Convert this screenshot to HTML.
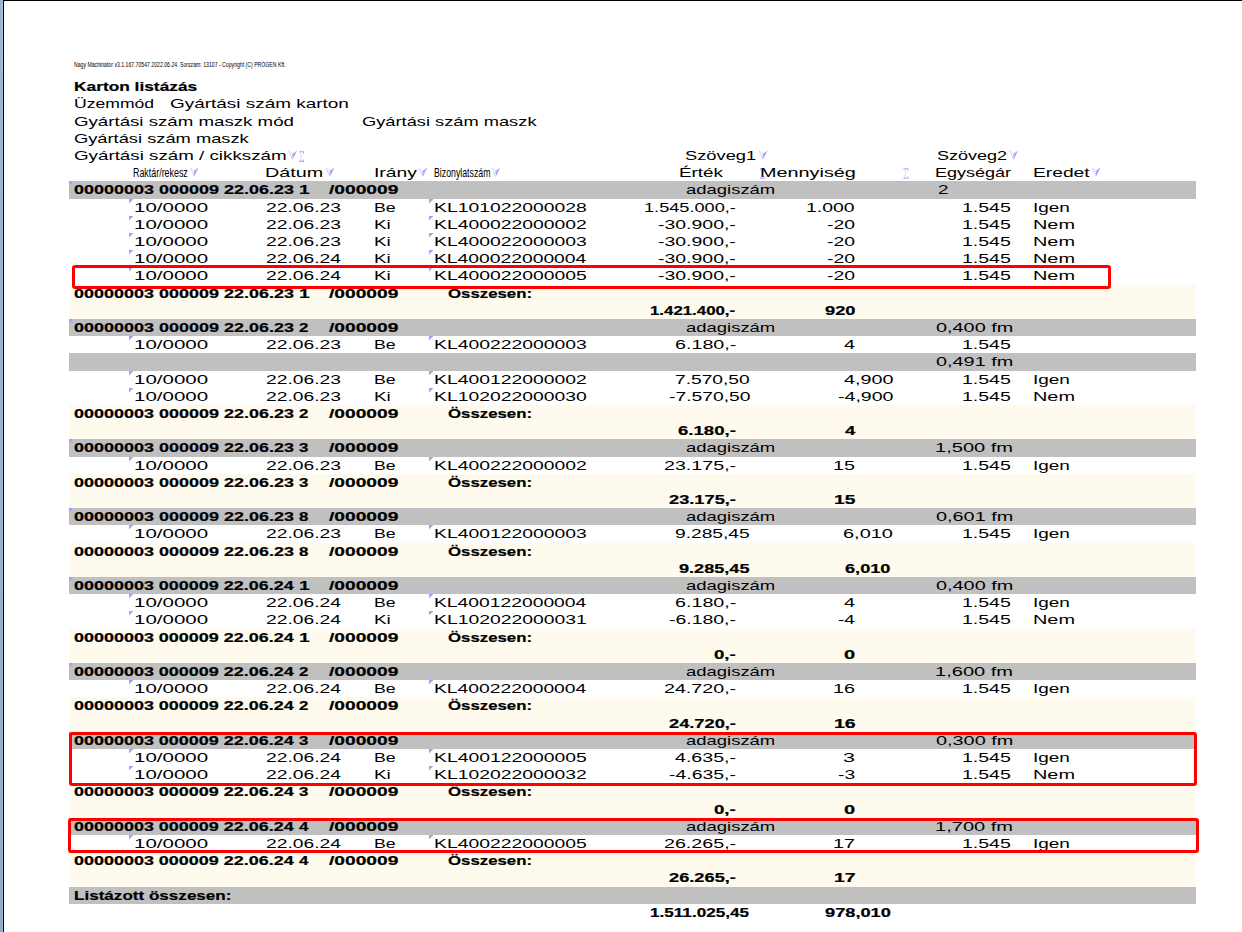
<!DOCTYPE html>
<html><head><meta charset="utf-8"><style>
html,body{margin:0;padding:0;}
body{width:1242px;height:932px;overflow:hidden;position:relative;background:#fff;font-family:"Liberation Sans",sans-serif;}
.t{position:absolute;white-space:pre;transform-origin:0 0;line-height:normal;color:#000;}
.bg{position:absolute;left:69px;width:1127px;}
.tri{position:absolute;width:5px;height:5px;background:linear-gradient(135deg,#a0a0ff 0,#a0a0ff 38%,rgba(160,160,255,0) 52%);}
.ic{position:absolute;}
.box{position:absolute;box-sizing:border-box;border:3px solid #ff0000;border-radius:3px;}
#lstrip{position:absolute;left:0;top:0;width:2px;height:932px;background:linear-gradient(#9db5d5,#91abc9);}
#lstrip2{position:absolute;left:2px;top:0;width:1px;height:932px;background:linear-gradient(#a7c0de,#9bb5d3);}
#lline{position:absolute;left:3px;top:0;width:1px;height:932px;background:#000;}
#tline{position:absolute;left:3px;top:0;width:1239px;height:1px;background:#000;}
</style></head><body>
<div id="lstrip"></div><div id="lstrip2"></div><div id="lline"></div><div id="tline"></div>
<div class="bg" style="top:181px;height:18px;background:#c0c0c0"></div><div class="bg" style="top:319px;height:17px;background:#c0c0c0"></div><div class="bg" style="top:353px;height:18px;background:#c0c0c0"></div><div class="bg" style="top:439px;height:18px;background:#c0c0c0"></div><div class="bg" style="top:508px;height:17px;background:#c0c0c0"></div><div class="bg" style="top:577px;height:17px;background:#c0c0c0"></div><div class="bg" style="top:663px;height:17px;background:#c0c0c0"></div><div class="bg" style="top:732px;height:17px;background:#c0c0c0"></div><div class="bg" style="top:818px;height:17px;background:#c0c0c0"></div><div class="bg" style="top:887px;height:17px;background:#c0c0c0"></div><div class="bg" style="top:285px;height:17px;background:#fffaee"></div><div class="bg" style="top:302px;height:17px;background:#fffaee"></div><div class="bg" style="top:405px;height:17px;background:#fffaee"></div><div class="bg" style="top:422px;height:17px;background:#fffaee"></div><div class="bg" style="top:474px;height:17px;background:#fffaee"></div><div class="bg" style="top:491px;height:17px;background:#fffaee"></div><div class="bg" style="top:543px;height:17px;background:#fffaee"></div><div class="bg" style="top:560px;height:17px;background:#fffaee"></div><div class="bg" style="top:629px;height:17px;background:#fffaee"></div><div class="bg" style="top:646px;height:17px;background:#fffaee"></div><div class="bg" style="top:697px;height:18px;background:#fffaee"></div><div class="bg" style="top:715px;height:17px;background:#fffaee"></div><div class="bg" style="top:783px;height:18px;background:#fffaee"></div><div class="bg" style="top:801px;height:17px;background:#fffaee"></div><div class="bg" style="top:852px;height:17px;background:#fffaee"></div><div class="bg" style="top:869px;height:18px;background:#fffaee"></div>
<div class="tri" style="left:69px;top:181px"></div><div class="tri" style="left:69px;top:319px"></div><div class="tri" style="left:69px;top:439px"></div><div class="tri" style="left:69px;top:508px"></div><div class="tri" style="left:69px;top:577px"></div><div class="tri" style="left:69px;top:663px"></div><div class="tri" style="left:69px;top:732px"></div><div class="tri" style="left:69px;top:818px"></div><div class="tri" style="left:129px;top:199px"></div><div class="tri" style="left:429px;top:199px"></div><div class="tri" style="left:129px;top:216px"></div><div class="tri" style="left:429px;top:216px"></div><div class="tri" style="left:129px;top:233px"></div><div class="tri" style="left:429px;top:233px"></div><div class="tri" style="left:129px;top:250px"></div><div class="tri" style="left:429px;top:250px"></div><div class="tri" style="left:129px;top:267px"></div><div class="tri" style="left:429px;top:267px"></div><div class="tri" style="left:129px;top:336px"></div><div class="tri" style="left:429px;top:336px"></div><div class="tri" style="left:129px;top:371px"></div><div class="tri" style="left:429px;top:371px"></div><div class="tri" style="left:129px;top:388px"></div><div class="tri" style="left:429px;top:388px"></div><div class="tri" style="left:129px;top:457px"></div><div class="tri" style="left:429px;top:457px"></div><div class="tri" style="left:129px;top:525px"></div><div class="tri" style="left:429px;top:525px"></div><div class="tri" style="left:129px;top:594px"></div><div class="tri" style="left:429px;top:594px"></div><div class="tri" style="left:129px;top:611px"></div><div class="tri" style="left:429px;top:611px"></div><div class="tri" style="left:129px;top:680px"></div><div class="tri" style="left:429px;top:680px"></div><div class="tri" style="left:129px;top:749px"></div><div class="tri" style="left:429px;top:749px"></div><div class="tri" style="left:129px;top:766px"></div><div class="tri" style="left:429px;top:766px"></div><div class="tri" style="left:129px;top:835px"></div><div class="tri" style="left:429px;top:835px"></div>
<svg class="ic" style="left:288px;top:150px" width="12" height="12" viewBox="0 0 12 12"><path d="M0.80 0.70 L4.50 9.30" stroke="#d4d0ff" stroke-width="1" fill="none"/><path d="M1.00 0.80 L4.70 3.50" stroke="#e0dcff" stroke-width="0.8" fill="none"/><path d="M4.20 3.90 L9.10 0.50 L4.70 9.60 Z" fill="#aaa6ff"/></svg><svg class="ic" style="left:758px;top:150px" width="12" height="12" viewBox="0 0 12 12"><path d="M1.20 0.70 L4.90 9.30" stroke="#d4d0ff" stroke-width="1" fill="none"/><path d="M1.40 0.80 L5.10 3.50" stroke="#e0dcff" stroke-width="0.8" fill="none"/><path d="M4.60 3.90 L9.50 0.50 L5.10 9.60 Z" fill="#aaa6ff"/></svg><svg class="ic" style="left:1009px;top:150px" width="12" height="12" viewBox="0 0 12 12"><path d="M0.90 0.70 L4.60 9.30" stroke="#d4d0ff" stroke-width="1" fill="none"/><path d="M1.10 0.80 L4.80 3.50" stroke="#e0dcff" stroke-width="0.8" fill="none"/><path d="M4.30 3.90 L9.20 0.50 L4.80 9.60 Z" fill="#aaa6ff"/></svg><svg class="ic" style="left:299px;top:151px" width="8" height="13" viewBox="0 0 8 13"><path d="M4.60 2.80 L4.60 0.80 L0.20 0.80" stroke="#aaa6ff" stroke-width="1.1" fill="none"/><path d="M4.60 8.50 L4.60 10.40 L0.20 10.40" stroke="#aaa6ff" stroke-width="1.1" fill="none"/><path d="M1.00 1.20 L2.60 5.40 L1.00 10.00" stroke="#d0ccff" stroke-width="0.9" fill="none"/></svg><svg class="ic" style="left:190px;top:167px" width="12" height="12" viewBox="0 0 12 12"><path d="M0.40 0.80 L4.10 9.40" stroke="#d4d0ff" stroke-width="1" fill="none"/><path d="M0.60 0.90 L4.30 3.60" stroke="#e0dcff" stroke-width="0.8" fill="none"/><path d="M3.80 4.00 L8.70 0.60 L4.30 9.70 Z" fill="#aaa6ff"/></svg><svg class="ic" style="left:325px;top:167px" width="12" height="12" viewBox="0 0 12 12"><path d="M1.10 0.80 L4.80 9.40" stroke="#d4d0ff" stroke-width="1" fill="none"/><path d="M1.30 0.90 L5.00 3.60" stroke="#e0dcff" stroke-width="0.8" fill="none"/><path d="M4.50 4.00 L9.40 0.60 L5.00 9.70 Z" fill="#aaa6ff"/></svg><svg class="ic" style="left:418px;top:167px" width="12" height="12" viewBox="0 0 12 12"><path d="M1.00 0.80 L4.70 9.40" stroke="#d4d0ff" stroke-width="1" fill="none"/><path d="M1.20 0.90 L4.90 3.60" stroke="#e0dcff" stroke-width="0.8" fill="none"/><path d="M4.40 4.00 L9.30 0.60 L4.90 9.70 Z" fill="#aaa6ff"/></svg><svg class="ic" style="left:491px;top:167px" width="12" height="12" viewBox="0 0 12 12"><path d="M1.00 0.80 L4.70 9.40" stroke="#d4d0ff" stroke-width="1" fill="none"/><path d="M1.20 0.90 L4.90 3.60" stroke="#e0dcff" stroke-width="0.8" fill="none"/><path d="M4.40 4.00 L9.30 0.60 L4.90 9.70 Z" fill="#aaa6ff"/></svg><svg class="ic" style="left:1091px;top:167px" width="12" height="12" viewBox="0 0 12 12"><path d="M1.20 0.80 L4.90 9.40" stroke="#d4d0ff" stroke-width="1" fill="none"/><path d="M1.40 0.90 L5.10 3.60" stroke="#e0dcff" stroke-width="0.8" fill="none"/><path d="M4.60 4.00 L9.50 0.60 L5.10 9.70 Z" fill="#aaa6ff"/></svg><svg class="ic" style="left:903px;top:168px" width="8" height="13" viewBox="0 0 8 13"><path d="M4.80 2.70 L4.80 0.70 L0.40 0.70" stroke="#aaa6ff" stroke-width="1.1" fill="none"/><path d="M4.80 8.40 L4.80 10.30 L0.40 10.30" stroke="#aaa6ff" stroke-width="1.1" fill="none"/><path d="M1.20 1.10 L2.80 5.30 L1.20 9.90" stroke="#d0ccff" stroke-width="0.9" fill="none"/></svg><svg class="ic" style="left:759px;top:168px" width="8" height="13" viewBox="0 0 8 13"><path d="M5.20 2.70 L5.20 0.70 L0.80 0.70" stroke="#aaa6ff" stroke-width="1.1" fill="none"/><path d="M5.20 8.40 L5.20 10.30 L0.80 10.30" stroke="#aaa6ff" stroke-width="1.1" fill="none"/><path d="M1.60 1.10 L3.20 5.30 L1.60 9.90" stroke="#d0ccff" stroke-width="0.9" fill="none"/></svg>
<span class="t" style="left:73.55px;top:60.19px;font-size:7.3px;transform:scaleX(0.7062);">Nagy Machinátor v3.1.167.70547 2022.06.24. Sorszám: 13107 - Copyright (C) PROGEN Kft.</span><span class="t" style="left:73.95px;top:80.00px;font-size:12.4px;transform:scaleX(1.3977);font-weight:bold;-webkit-text-stroke:0.2px #000;">Karton listázás</span><span class="t" style="left:73.58px;top:97.00px;font-size:12.4px;transform:scaleX(1.4192);">Üzemmód</span><span class="t" style="left:170.24px;top:97.00px;font-size:12.4px;transform:scaleX(1.5283);">Gyártási szám karton</span><span class="t" style="left:74.25px;top:115.00px;font-size:12.4px;transform:scaleX(1.5067);">Gyártási szám maszk mód</span><span class="t" style="left:362.26px;top:115.00px;font-size:12.4px;transform:scaleX(1.4737);">Gyártási szám maszk</span><span class="t" style="left:74.26px;top:132.00px;font-size:12.4px;transform:scaleX(1.4754);">Gyártási szám maszk</span><span class="t" style="left:74.24px;top:149.00px;font-size:12.4px;transform:scaleX(1.5138);">Gyártási szám / cikkszám</span><span class="t" style="left:685.26px;top:149.00px;font-size:12.4px;transform:scaleX(1.4751);">Szöveg1</span><span class="t" style="left:936.97px;top:149.00px;font-size:12.4px;transform:scaleX(1.4532);">Szöveg2</span><span class="t" style="left:265.31px;top:166.00px;font-size:12.4px;transform:scaleX(1.5942);">Dátum</span><span class="t" style="left:373.65px;top:166.00px;font-size:12.4px;transform:scaleX(1.5547);">Irány</span><span class="t" style="left:678.78px;top:166.00px;font-size:12.4px;transform:scaleX(1.5214);">Érték</span><span class="t" style="left:760.10px;top:166.00px;font-size:12.4px;transform:scaleX(1.6000);">Mennyiség</span><span class="t" style="left:935.05px;top:166.00px;font-size:12.4px;transform:scaleX(1.4537);">Egységár</span><span class="t" style="left:1032.65px;top:166.00px;font-size:12.4px;transform:scaleX(1.5521);">Eredet</span><span class="t" style="left:133.38px;top:166.00px;font-size:12.4px;transform:scaleX(0.7171);">Raktár/rekesz</span><span class="t" style="left:433.79px;top:166.00px;font-size:12.4px;transform:scaleX(0.7064);">Bizonylatszám</span><span class="t" style="left:74.07px;top:183.00px;font-size:12.4px;transform:scaleX(1.4514);font-weight:bold;-webkit-text-stroke:0.2px #000;">00000003 000009 22.06.23</span><span class="t" style="left:298.64px;top:183.00px;font-size:12.4px;transform:scaleX(1.5478);font-weight:bold;-webkit-text-stroke:0.2px #000;">1</span><span class="t" style="left:329.20px;top:183.00px;font-size:12.4px;transform:scaleX(1.5480);font-weight:bold;-webkit-text-stroke:0.2px #000;">/000009</span><span class="t" style="left:685.96px;top:183.00px;font-size:12.4px;transform:scaleX(1.4894);">adagiszám</span><span class="t" style="left:937.74px;top:183.00px;font-size:12.4px;transform:scaleX(1.5130);">2</span><span class="t" style="left:74.07px;top:321.00px;font-size:12.4px;transform:scaleX(1.4514);font-weight:bold;-webkit-text-stroke:0.2px #000;">00000003 000009 22.06.23</span><span class="t" style="left:299.12px;top:321.00px;font-size:12.4px;transform:scaleX(1.3600);font-weight:bold;-webkit-text-stroke:0.2px #000;">2</span><span class="t" style="left:329.20px;top:321.00px;font-size:12.4px;transform:scaleX(1.5480);font-weight:bold;-webkit-text-stroke:0.2px #000;">/000009</span><span class="t" style="left:685.96px;top:321.00px;font-size:12.4px;transform:scaleX(1.4894);">adagiszám</span><span class="t" style="left:936.20px;top:321.00px;font-size:12.4px;transform:scaleX(1.6021);">0,400 fm</span><span class="t" style="left:74.07px;top:441.00px;font-size:12.4px;transform:scaleX(1.4514);font-weight:bold;-webkit-text-stroke:0.2px #000;">00000003 000009 22.06.23</span><span class="t" style="left:299.46px;top:441.00px;font-size:12.4px;transform:scaleX(1.3600);font-weight:bold;-webkit-text-stroke:0.2px #000;">3</span><span class="t" style="left:329.20px;top:441.00px;font-size:12.4px;transform:scaleX(1.5480);font-weight:bold;-webkit-text-stroke:0.2px #000;">/000009</span><span class="t" style="left:685.96px;top:441.00px;font-size:12.4px;transform:scaleX(1.4894);">adagiszám</span><span class="t" style="left:935.38px;top:441.00px;font-size:12.4px;transform:scaleX(1.6194);">1,500 fm</span><span class="t" style="left:74.07px;top:510.00px;font-size:12.4px;transform:scaleX(1.4514);font-weight:bold;-webkit-text-stroke:0.2px #000;">00000003 000009 22.06.23</span><span class="t" style="left:299.46px;top:510.00px;font-size:12.4px;transform:scaleX(1.3600);font-weight:bold;-webkit-text-stroke:0.2px #000;">8</span><span class="t" style="left:329.20px;top:510.00px;font-size:12.4px;transform:scaleX(1.5480);font-weight:bold;-webkit-text-stroke:0.2px #000;">/000009</span><span class="t" style="left:685.96px;top:510.00px;font-size:12.4px;transform:scaleX(1.4894);">adagiszám</span><span class="t" style="left:936.20px;top:510.00px;font-size:12.4px;transform:scaleX(1.6021);">0,601 fm</span><span class="t" style="left:74.08px;top:579.00px;font-size:12.4px;transform:scaleX(1.4490);font-weight:bold;-webkit-text-stroke:0.2px #000;">00000003 000009 22.06.24</span><span class="t" style="left:298.64px;top:579.00px;font-size:12.4px;transform:scaleX(1.5478);font-weight:bold;-webkit-text-stroke:0.2px #000;">1</span><span class="t" style="left:329.20px;top:579.00px;font-size:12.4px;transform:scaleX(1.5480);font-weight:bold;-webkit-text-stroke:0.2px #000;">/000009</span><span class="t" style="left:685.96px;top:579.00px;font-size:12.4px;transform:scaleX(1.4894);">adagiszám</span><span class="t" style="left:936.20px;top:579.00px;font-size:12.4px;transform:scaleX(1.6021);">0,400 fm</span><span class="t" style="left:74.08px;top:665.00px;font-size:12.4px;transform:scaleX(1.4490);font-weight:bold;-webkit-text-stroke:0.2px #000;">00000003 000009 22.06.24</span><span class="t" style="left:299.12px;top:665.00px;font-size:12.4px;transform:scaleX(1.3600);font-weight:bold;-webkit-text-stroke:0.2px #000;">2</span><span class="t" style="left:329.20px;top:665.00px;font-size:12.4px;transform:scaleX(1.5480);font-weight:bold;-webkit-text-stroke:0.2px #000;">/000009</span><span class="t" style="left:685.96px;top:665.00px;font-size:12.4px;transform:scaleX(1.4894);">adagiszám</span><span class="t" style="left:935.38px;top:665.00px;font-size:12.4px;transform:scaleX(1.6194);">1,600 fm</span><span class="t" style="left:74.08px;top:734.00px;font-size:12.4px;transform:scaleX(1.4490);font-weight:bold;-webkit-text-stroke:0.2px #000;">00000003 000009 22.06.24</span><span class="t" style="left:299.46px;top:734.00px;font-size:12.4px;transform:scaleX(1.3600);font-weight:bold;-webkit-text-stroke:0.2px #000;">3</span><span class="t" style="left:329.20px;top:734.00px;font-size:12.4px;transform:scaleX(1.5480);font-weight:bold;-webkit-text-stroke:0.2px #000;">/000009</span><span class="t" style="left:685.96px;top:734.00px;font-size:12.4px;transform:scaleX(1.4894);">adagiszám</span><span class="t" style="left:936.20px;top:734.00px;font-size:12.4px;transform:scaleX(1.6021);">0,300 fm</span><span class="t" style="left:74.08px;top:820.00px;font-size:12.4px;transform:scaleX(1.4490);font-weight:bold;-webkit-text-stroke:0.2px #000;">00000003 000009 22.06.24</span><span class="t" style="left:299.46px;top:820.00px;font-size:12.4px;transform:scaleX(1.3600);font-weight:bold;-webkit-text-stroke:0.2px #000;">4</span><span class="t" style="left:329.20px;top:820.00px;font-size:12.4px;transform:scaleX(1.5480);font-weight:bold;-webkit-text-stroke:0.2px #000;">/000009</span><span class="t" style="left:685.96px;top:820.00px;font-size:12.4px;transform:scaleX(1.4894);">adagiszám</span><span class="t" style="left:935.38px;top:820.00px;font-size:12.4px;transform:scaleX(1.6194);">1,700 fm</span><span class="t" style="left:936.20px;top:355.00px;font-size:12.4px;transform:scaleX(1.6021);">0,491 fm</span><span class="t" style="left:74.07px;top:287.00px;font-size:12.4px;transform:scaleX(1.4514);font-weight:bold;-webkit-text-stroke:0.2px #000;">00000003 000009 22.06.23</span><span class="t" style="left:298.64px;top:287.00px;font-size:12.4px;transform:scaleX(1.5478);font-weight:bold;-webkit-text-stroke:0.2px #000;">1</span><span class="t" style="left:329.20px;top:287.00px;font-size:12.4px;transform:scaleX(1.5480);font-weight:bold;-webkit-text-stroke:0.2px #000;">/000009</span><span class="t" style="left:448.02px;top:287.00px;font-size:12.4px;transform:scaleX(1.3560);font-weight:bold;-webkit-text-stroke:0.2px #000;">Összesen:</span><span class="t" style="left:650.48px;top:304.00px;font-size:12.4px;transform:scaleX(1.3577);font-weight:bold;-webkit-text-stroke:0.2px #000;">1.421.400,-</span><span class="t" style="left:825.16px;top:304.00px;font-size:12.4px;transform:scaleX(1.4734);font-weight:bold;-webkit-text-stroke:0.2px #000;">920</span><span class="t" style="left:74.07px;top:407.00px;font-size:12.4px;transform:scaleX(1.4514);font-weight:bold;-webkit-text-stroke:0.2px #000;">00000003 000009 22.06.23</span><span class="t" style="left:299.12px;top:407.00px;font-size:12.4px;transform:scaleX(1.3600);font-weight:bold;-webkit-text-stroke:0.2px #000;">2</span><span class="t" style="left:329.20px;top:407.00px;font-size:12.4px;transform:scaleX(1.5480);font-weight:bold;-webkit-text-stroke:0.2px #000;">/000009</span><span class="t" style="left:448.02px;top:407.00px;font-size:12.4px;transform:scaleX(1.3560);font-weight:bold;-webkit-text-stroke:0.2px #000;">Összesen:</span><span class="t" style="left:677.95px;top:424.00px;font-size:12.4px;transform:scaleX(1.5013);font-weight:bold;-webkit-text-stroke:0.2px #000;">6.180,-</span><span class="t" style="left:844.93px;top:424.00px;font-size:12.4px;transform:scaleX(1.4923);font-weight:bold;-webkit-text-stroke:0.2px #000;">4</span><span class="t" style="left:74.07px;top:476.00px;font-size:12.4px;transform:scaleX(1.4514);font-weight:bold;-webkit-text-stroke:0.2px #000;">00000003 000009 22.06.23</span><span class="t" style="left:299.46px;top:476.00px;font-size:12.4px;transform:scaleX(1.3600);font-weight:bold;-webkit-text-stroke:0.2px #000;">3</span><span class="t" style="left:329.20px;top:476.00px;font-size:12.4px;transform:scaleX(1.5480);font-weight:bold;-webkit-text-stroke:0.2px #000;">/000009</span><span class="t" style="left:448.02px;top:476.00px;font-size:12.4px;transform:scaleX(1.3560);font-weight:bold;-webkit-text-stroke:0.2px #000;">Összesen:</span><span class="t" style="left:668.76px;top:493.00px;font-size:12.4px;transform:scaleX(1.4719);font-weight:bold;-webkit-text-stroke:0.2px #000;">23.175,-</span><span class="t" style="left:834.14px;top:493.00px;font-size:12.4px;transform:scaleX(1.5451);font-weight:bold;-webkit-text-stroke:0.2px #000;">15</span><span class="t" style="left:74.07px;top:545.00px;font-size:12.4px;transform:scaleX(1.4514);font-weight:bold;-webkit-text-stroke:0.2px #000;">00000003 000009 22.06.23</span><span class="t" style="left:299.46px;top:545.00px;font-size:12.4px;transform:scaleX(1.3600);font-weight:bold;-webkit-text-stroke:0.2px #000;">8</span><span class="t" style="left:329.20px;top:545.00px;font-size:12.4px;transform:scaleX(1.5480);font-weight:bold;-webkit-text-stroke:0.2px #000;">/000009</span><span class="t" style="left:448.02px;top:545.00px;font-size:12.4px;transform:scaleX(1.3560);font-weight:bold;-webkit-text-stroke:0.2px #000;">Összesen:</span><span class="t" style="left:679.07px;top:562.00px;font-size:12.4px;transform:scaleX(1.4611);font-weight:bold;-webkit-text-stroke:0.2px #000;">9.285,45</span><span class="t" style="left:845.47px;top:562.00px;font-size:12.4px;transform:scaleX(1.4667);font-weight:bold;-webkit-text-stroke:0.2px #000;">6,010</span><span class="t" style="left:74.08px;top:631.00px;font-size:12.4px;transform:scaleX(1.4490);font-weight:bold;-webkit-text-stroke:0.2px #000;">00000003 000009 22.06.24</span><span class="t" style="left:298.64px;top:631.00px;font-size:12.4px;transform:scaleX(1.5478);font-weight:bold;-webkit-text-stroke:0.2px #000;">1</span><span class="t" style="left:329.20px;top:631.00px;font-size:12.4px;transform:scaleX(1.5480);font-weight:bold;-webkit-text-stroke:0.2px #000;">/000009</span><span class="t" style="left:448.02px;top:631.00px;font-size:12.4px;transform:scaleX(1.3560);font-weight:bold;-webkit-text-stroke:0.2px #000;">Összesen:</span><span class="t" style="left:713.95px;top:648.00px;font-size:12.4px;transform:scaleX(1.5037);font-weight:bold;-webkit-text-stroke:0.2px #000;">0,-</span><span class="t" style="left:844.49px;top:648.00px;font-size:12.4px;transform:scaleX(1.6167);font-weight:bold;-webkit-text-stroke:0.2px #000;">0</span><span class="t" style="left:74.08px;top:699.00px;font-size:12.4px;transform:scaleX(1.4490);font-weight:bold;-webkit-text-stroke:0.2px #000;">00000003 000009 22.06.24</span><span class="t" style="left:299.12px;top:699.00px;font-size:12.4px;transform:scaleX(1.3600);font-weight:bold;-webkit-text-stroke:0.2px #000;">2</span><span class="t" style="left:329.20px;top:699.00px;font-size:12.4px;transform:scaleX(1.5480);font-weight:bold;-webkit-text-stroke:0.2px #000;">/000009</span><span class="t" style="left:448.02px;top:699.00px;font-size:12.4px;transform:scaleX(1.3560);font-weight:bold;-webkit-text-stroke:0.2px #000;">Összesen:</span><span class="t" style="left:668.76px;top:717.00px;font-size:12.4px;transform:scaleX(1.4719);font-weight:bold;-webkit-text-stroke:0.2px #000;">24.720,-</span><span class="t" style="left:834.12px;top:717.00px;font-size:12.4px;transform:scaleX(1.5760);font-weight:bold;-webkit-text-stroke:0.2px #000;">16</span><span class="t" style="left:74.08px;top:785.00px;font-size:12.4px;transform:scaleX(1.4490);font-weight:bold;-webkit-text-stroke:0.2px #000;">00000003 000009 22.06.24</span><span class="t" style="left:299.46px;top:785.00px;font-size:12.4px;transform:scaleX(1.3600);font-weight:bold;-webkit-text-stroke:0.2px #000;">3</span><span class="t" style="left:329.20px;top:785.00px;font-size:12.4px;transform:scaleX(1.5480);font-weight:bold;-webkit-text-stroke:0.2px #000;">/000009</span><span class="t" style="left:448.02px;top:785.00px;font-size:12.4px;transform:scaleX(1.3560);font-weight:bold;-webkit-text-stroke:0.2px #000;">Összesen:</span><span class="t" style="left:713.95px;top:803.00px;font-size:12.4px;transform:scaleX(1.5037);font-weight:bold;-webkit-text-stroke:0.2px #000;">0,-</span><span class="t" style="left:844.49px;top:803.00px;font-size:12.4px;transform:scaleX(1.6167);font-weight:bold;-webkit-text-stroke:0.2px #000;">0</span><span class="t" style="left:74.08px;top:854.00px;font-size:12.4px;transform:scaleX(1.4490);font-weight:bold;-webkit-text-stroke:0.2px #000;">00000003 000009 22.06.24</span><span class="t" style="left:299.46px;top:854.00px;font-size:12.4px;transform:scaleX(1.3600);font-weight:bold;-webkit-text-stroke:0.2px #000;">4</span><span class="t" style="left:329.20px;top:854.00px;font-size:12.4px;transform:scaleX(1.5480);font-weight:bold;-webkit-text-stroke:0.2px #000;">/000009</span><span class="t" style="left:448.02px;top:854.00px;font-size:12.4px;transform:scaleX(1.3560);font-weight:bold;-webkit-text-stroke:0.2px #000;">Összesen:</span><span class="t" style="left:668.76px;top:871.00px;font-size:12.4px;transform:scaleX(1.4719);font-weight:bold;-webkit-text-stroke:0.2px #000;">26.265,-</span><span class="t" style="left:834.12px;top:871.00px;font-size:12.4px;transform:scaleX(1.5760);font-weight:bold;-webkit-text-stroke:0.2px #000;">17</span><span class="t" style="left:133.84px;top:201.00px;font-size:12.4px;transform:scaleX(1.6555);">10/0000</span><span class="t" style="left:266.12px;top:201.00px;font-size:12.4px;transform:scaleX(1.5556);">22.06.23</span><span class="t" style="left:373.77px;top:201.00px;font-size:12.4px;transform:scaleX(1.4296);">Be</span><span class="t" style="left:433.64px;top:201.00px;font-size:12.4px;transform:scaleX(1.5605);">KL101022000028</span><span class="t" style="left:643.73px;top:201.00px;font-size:12.4px;transform:scaleX(1.4661);">1.545.000,-</span><span class="t" style="left:806.23px;top:201.00px;font-size:12.4px;transform:scaleX(1.5661);">1.000</span><span class="t" style="left:961.63px;top:201.00px;font-size:12.4px;transform:scaleX(1.5729);">1.545</span><span class="t" style="left:1032.67px;top:201.00px;font-size:12.4px;transform:scaleX(1.5281);">Igen</span><span class="t" style="left:133.84px;top:218.00px;font-size:12.4px;transform:scaleX(1.6555);">10/0000</span><span class="t" style="left:266.12px;top:218.00px;font-size:12.4px;transform:scaleX(1.5556);">22.06.23</span><span class="t" style="left:373.68px;top:218.00px;font-size:12.4px;transform:scaleX(1.5243);">Ki</span><span class="t" style="left:433.64px;top:218.00px;font-size:12.4px;transform:scaleX(1.5605);">KL400022000002</span><span class="t" style="left:658.12px;top:218.00px;font-size:12.4px;transform:scaleX(1.5691);">-30.900,-</span><span class="t" style="left:826.62px;top:218.00px;font-size:12.4px;transform:scaleX(1.5647);">-20</span><span class="t" style="left:961.63px;top:218.00px;font-size:12.4px;transform:scaleX(1.5729);">1.545</span><span class="t" style="left:1032.60px;top:218.00px;font-size:12.4px;transform:scaleX(1.6041);">Nem</span><span class="t" style="left:133.84px;top:235.00px;font-size:12.4px;transform:scaleX(1.6555);">10/0000</span><span class="t" style="left:266.12px;top:235.00px;font-size:12.4px;transform:scaleX(1.5556);">22.06.23</span><span class="t" style="left:373.68px;top:235.00px;font-size:12.4px;transform:scaleX(1.5243);">Ki</span><span class="t" style="left:433.64px;top:235.00px;font-size:12.4px;transform:scaleX(1.5605);">KL400022000003</span><span class="t" style="left:658.12px;top:235.00px;font-size:12.4px;transform:scaleX(1.5691);">-30.900,-</span><span class="t" style="left:826.62px;top:235.00px;font-size:12.4px;transform:scaleX(1.5647);">-20</span><span class="t" style="left:961.63px;top:235.00px;font-size:12.4px;transform:scaleX(1.5729);">1.545</span><span class="t" style="left:1032.60px;top:235.00px;font-size:12.4px;transform:scaleX(1.6041);">Nem</span><span class="t" style="left:133.84px;top:252.00px;font-size:12.4px;transform:scaleX(1.6555);">10/0000</span><span class="t" style="left:266.12px;top:252.00px;font-size:12.4px;transform:scaleX(1.5556);">22.06.24</span><span class="t" style="left:373.68px;top:252.00px;font-size:12.4px;transform:scaleX(1.5243);">Ki</span><span class="t" style="left:433.64px;top:252.00px;font-size:12.4px;transform:scaleX(1.5565);">KL400022000004</span><span class="t" style="left:658.12px;top:252.00px;font-size:12.4px;transform:scaleX(1.5691);">-30.900,-</span><span class="t" style="left:826.62px;top:252.00px;font-size:12.4px;transform:scaleX(1.5647);">-20</span><span class="t" style="left:961.63px;top:252.00px;font-size:12.4px;transform:scaleX(1.5729);">1.545</span><span class="t" style="left:1032.60px;top:252.00px;font-size:12.4px;transform:scaleX(1.6041);">Nem</span><span class="t" style="left:133.84px;top:269.00px;font-size:12.4px;transform:scaleX(1.6555);">10/0000</span><span class="t" style="left:266.12px;top:269.00px;font-size:12.4px;transform:scaleX(1.5556);">22.06.24</span><span class="t" style="left:373.68px;top:269.00px;font-size:12.4px;transform:scaleX(1.5243);">Ki</span><span class="t" style="left:433.64px;top:269.00px;font-size:12.4px;transform:scaleX(1.5605);">KL400022000005</span><span class="t" style="left:658.12px;top:269.00px;font-size:12.4px;transform:scaleX(1.5691);">-30.900,-</span><span class="t" style="left:826.62px;top:269.00px;font-size:12.4px;transform:scaleX(1.5647);">-20</span><span class="t" style="left:961.63px;top:269.00px;font-size:12.4px;transform:scaleX(1.5729);">1.545</span><span class="t" style="left:1032.60px;top:269.00px;font-size:12.4px;transform:scaleX(1.6041);">Nem</span><span class="t" style="left:133.84px;top:338.00px;font-size:12.4px;transform:scaleX(1.6555);">10/0000</span><span class="t" style="left:266.12px;top:338.00px;font-size:12.4px;transform:scaleX(1.5556);">22.06.23</span><span class="t" style="left:373.77px;top:338.00px;font-size:12.4px;transform:scaleX(1.4296);">Be</span><span class="t" style="left:433.64px;top:338.00px;font-size:12.4px;transform:scaleX(1.5605);">KL400222000003</span><span class="t" style="left:674.61px;top:338.00px;font-size:12.4px;transform:scaleX(1.5893);">6.180,-</span><span class="t" style="left:843.60px;top:338.00px;font-size:12.4px;transform:scaleX(1.6000);">4</span><span class="t" style="left:961.63px;top:338.00px;font-size:12.4px;transform:scaleX(1.5729);">1.545</span><span class="t" style="left:133.84px;top:373.00px;font-size:12.4px;transform:scaleX(1.6555);">10/0000</span><span class="t" style="left:266.12px;top:373.00px;font-size:12.4px;transform:scaleX(1.5556);">22.06.23</span><span class="t" style="left:373.77px;top:373.00px;font-size:12.4px;transform:scaleX(1.4296);">Be</span><span class="t" style="left:433.64px;top:373.00px;font-size:12.4px;transform:scaleX(1.5605);">KL400122000002</span><span class="t" style="left:675.23px;top:373.00px;font-size:12.4px;transform:scaleX(1.5492);">7.570,50</span><span class="t" style="left:843.80px;top:373.00px;font-size:12.4px;transform:scaleX(1.5967);">4,900</span><span class="t" style="left:961.63px;top:373.00px;font-size:12.4px;transform:scaleX(1.5729);">1.545</span><span class="t" style="left:1032.67px;top:373.00px;font-size:12.4px;transform:scaleX(1.5281);">Igen</span><span class="t" style="left:133.84px;top:390.00px;font-size:12.4px;transform:scaleX(1.6555);">10/0000</span><span class="t" style="left:266.12px;top:390.00px;font-size:12.4px;transform:scaleX(1.5556);">22.06.23</span><span class="t" style="left:373.68px;top:390.00px;font-size:12.4px;transform:scaleX(1.5243);">Ki</span><span class="t" style="left:433.64px;top:390.00px;font-size:12.4px;transform:scaleX(1.5605);">KL102022000030</span><span class="t" style="left:668.72px;top:390.00px;font-size:12.4px;transform:scaleX(1.5551);">-7.570,50</span><span class="t" style="left:837.61px;top:390.00px;font-size:12.4px;transform:scaleX(1.5796);">-4,900</span><span class="t" style="left:961.63px;top:390.00px;font-size:12.4px;transform:scaleX(1.5729);">1.545</span><span class="t" style="left:1032.60px;top:390.00px;font-size:12.4px;transform:scaleX(1.6041);">Nem</span><span class="t" style="left:133.84px;top:459.00px;font-size:12.4px;transform:scaleX(1.6555);">10/0000</span><span class="t" style="left:266.12px;top:459.00px;font-size:12.4px;transform:scaleX(1.5556);">22.06.23</span><span class="t" style="left:373.77px;top:459.00px;font-size:12.4px;transform:scaleX(1.4296);">Be</span><span class="t" style="left:433.64px;top:459.00px;font-size:12.4px;transform:scaleX(1.5605);">KL400222000002</span><span class="t" style="left:663.61px;top:459.00px;font-size:12.4px;transform:scaleX(1.5865);">23.175,-</span><span class="t" style="left:832.91px;top:459.00px;font-size:12.4px;transform:scaleX(1.5918);">15</span><span class="t" style="left:961.63px;top:459.00px;font-size:12.4px;transform:scaleX(1.5729);">1.545</span><span class="t" style="left:1032.67px;top:459.00px;font-size:12.4px;transform:scaleX(1.5281);">Igen</span><span class="t" style="left:133.84px;top:527.00px;font-size:12.4px;transform:scaleX(1.6555);">10/0000</span><span class="t" style="left:266.12px;top:527.00px;font-size:12.4px;transform:scaleX(1.5556);">22.06.23</span><span class="t" style="left:373.77px;top:527.00px;font-size:12.4px;transform:scaleX(1.4296);">Be</span><span class="t" style="left:433.64px;top:527.00px;font-size:12.4px;transform:scaleX(1.5605);">KL400122000003</span><span class="t" style="left:675.23px;top:527.00px;font-size:12.4px;transform:scaleX(1.5492);">9.285,45</span><span class="t" style="left:843.40px;top:527.00px;font-size:12.4px;transform:scaleX(1.6100);">6,010</span><span class="t" style="left:961.63px;top:527.00px;font-size:12.4px;transform:scaleX(1.5729);">1.545</span><span class="t" style="left:1032.67px;top:527.00px;font-size:12.4px;transform:scaleX(1.5281);">Igen</span><span class="t" style="left:133.84px;top:596.00px;font-size:12.4px;transform:scaleX(1.6555);">10/0000</span><span class="t" style="left:266.12px;top:596.00px;font-size:12.4px;transform:scaleX(1.5556);">22.06.24</span><span class="t" style="left:373.77px;top:596.00px;font-size:12.4px;transform:scaleX(1.4296);">Be</span><span class="t" style="left:433.64px;top:596.00px;font-size:12.4px;transform:scaleX(1.5565);">KL400122000004</span><span class="t" style="left:674.61px;top:596.00px;font-size:12.4px;transform:scaleX(1.5893);">6.180,-</span><span class="t" style="left:843.60px;top:596.00px;font-size:12.4px;transform:scaleX(1.6000);">4</span><span class="t" style="left:961.63px;top:596.00px;font-size:12.4px;transform:scaleX(1.5729);">1.545</span><span class="t" style="left:1032.67px;top:596.00px;font-size:12.4px;transform:scaleX(1.5281);">Igen</span><span class="t" style="left:133.84px;top:613.00px;font-size:12.4px;transform:scaleX(1.6555);">10/0000</span><span class="t" style="left:266.12px;top:613.00px;font-size:12.4px;transform:scaleX(1.5556);">22.06.24</span><span class="t" style="left:373.68px;top:613.00px;font-size:12.4px;transform:scaleX(1.5243);">Ki</span><span class="t" style="left:433.64px;top:613.00px;font-size:12.4px;transform:scaleX(1.5605);">KL102022000031</span><span class="t" style="left:668.72px;top:613.00px;font-size:12.4px;transform:scaleX(1.5689);">-6.180,-</span><span class="t" style="left:837.64px;top:613.00px;font-size:12.4px;transform:scaleX(1.5220);">-4</span><span class="t" style="left:961.63px;top:613.00px;font-size:12.4px;transform:scaleX(1.5729);">1.545</span><span class="t" style="left:1032.60px;top:613.00px;font-size:12.4px;transform:scaleX(1.6041);">Nem</span><span class="t" style="left:133.84px;top:682.00px;font-size:12.4px;transform:scaleX(1.6555);">10/0000</span><span class="t" style="left:266.12px;top:682.00px;font-size:12.4px;transform:scaleX(1.5556);">22.06.24</span><span class="t" style="left:373.77px;top:682.00px;font-size:12.4px;transform:scaleX(1.4296);">Be</span><span class="t" style="left:433.64px;top:682.00px;font-size:12.4px;transform:scaleX(1.5565);">KL400222000004</span><span class="t" style="left:663.61px;top:682.00px;font-size:12.4px;transform:scaleX(1.5865);">24.720,-</span><span class="t" style="left:832.91px;top:682.00px;font-size:12.4px;transform:scaleX(1.5918);">16</span><span class="t" style="left:961.63px;top:682.00px;font-size:12.4px;transform:scaleX(1.5729);">1.545</span><span class="t" style="left:1032.67px;top:682.00px;font-size:12.4px;transform:scaleX(1.5281);">Igen</span><span class="t" style="left:133.84px;top:751.00px;font-size:12.4px;transform:scaleX(1.6555);">10/0000</span><span class="t" style="left:266.12px;top:751.00px;font-size:12.4px;transform:scaleX(1.5556);">22.06.24</span><span class="t" style="left:373.77px;top:751.00px;font-size:12.4px;transform:scaleX(1.4296);">Be</span><span class="t" style="left:433.64px;top:751.00px;font-size:12.4px;transform:scaleX(1.5605);">KL400122000005</span><span class="t" style="left:674.90px;top:751.00px;font-size:12.4px;transform:scaleX(1.5815);">4.635,-</span><span class="t" style="left:843.13px;top:751.00px;font-size:12.4px;transform:scaleX(1.7391);">3</span><span class="t" style="left:961.63px;top:751.00px;font-size:12.4px;transform:scaleX(1.5729);">1.545</span><span class="t" style="left:1032.67px;top:751.00px;font-size:12.4px;transform:scaleX(1.5281);">Igen</span><span class="t" style="left:133.84px;top:768.00px;font-size:12.4px;transform:scaleX(1.6555);">10/0000</span><span class="t" style="left:266.12px;top:768.00px;font-size:12.4px;transform:scaleX(1.5556);">22.06.24</span><span class="t" style="left:373.68px;top:768.00px;font-size:12.4px;transform:scaleX(1.5243);">Ki</span><span class="t" style="left:433.64px;top:768.00px;font-size:12.4px;transform:scaleX(1.5605);">KL102022000032</span><span class="t" style="left:668.72px;top:768.00px;font-size:12.4px;transform:scaleX(1.5689);">-4.635,-</span><span class="t" style="left:837.62px;top:768.00px;font-size:12.4px;transform:scaleX(1.5600);">-3</span><span class="t" style="left:961.63px;top:768.00px;font-size:12.4px;transform:scaleX(1.5729);">1.545</span><span class="t" style="left:1032.60px;top:768.00px;font-size:12.4px;transform:scaleX(1.6041);">Nem</span><span class="t" style="left:133.84px;top:837.00px;font-size:12.4px;transform:scaleX(1.6555);">10/0000</span><span class="t" style="left:266.12px;top:837.00px;font-size:12.4px;transform:scaleX(1.5556);">22.06.24</span><span class="t" style="left:373.77px;top:837.00px;font-size:12.4px;transform:scaleX(1.4296);">Be</span><span class="t" style="left:433.64px;top:837.00px;font-size:12.4px;transform:scaleX(1.5605);">KL400222000005</span><span class="t" style="left:663.61px;top:837.00px;font-size:12.4px;transform:scaleX(1.5865);">26.265,-</span><span class="t" style="left:832.91px;top:837.00px;font-size:12.4px;transform:scaleX(1.5918);">17</span><span class="t" style="left:961.63px;top:837.00px;font-size:12.4px;transform:scaleX(1.5729);">1.545</span><span class="t" style="left:1032.67px;top:837.00px;font-size:12.4px;transform:scaleX(1.5281);">Igen</span><span class="t" style="left:73.97px;top:889.00px;font-size:12.4px;transform:scaleX(1.3778);font-weight:bold;-webkit-text-stroke:0.2px #000;">Listázott összesen:</span><span class="t" style="left:650.46px;top:906.00px;font-size:12.4px;transform:scaleX(1.3816);font-weight:bold;-webkit-text-stroke:0.2px #000;">1.511.025,45</span><span class="t" style="left:825.17px;top:906.00px;font-size:12.4px;transform:scaleX(1.4697);font-weight:bold;-webkit-text-stroke:0.2px #000;">978,010</span>
<div class="box" style="left:72px;top:265px;width:1039px;height:24px"></div><div class="box" style="left:69px;top:732px;width:1128px;height:54px"></div><div class="box" style="left:68px;top:818px;width:1131px;height:35px"></div>
</body></html>
